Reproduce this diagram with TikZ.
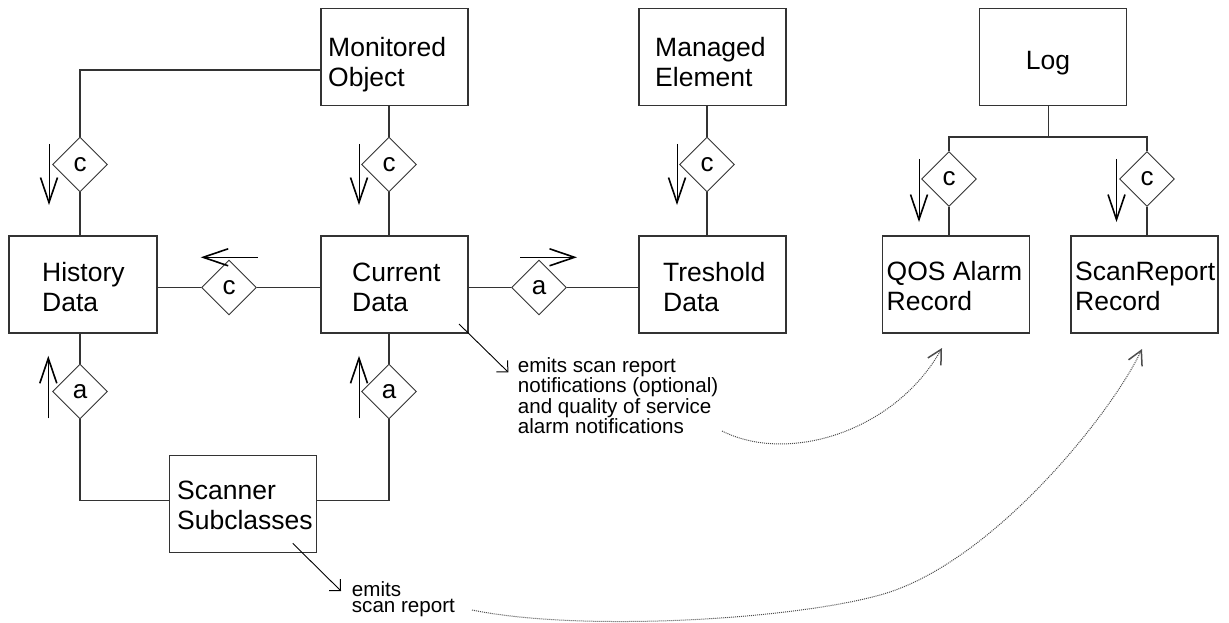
\documentclass[tikz,border=0pt]{standalone}
\usepackage{fontspec}
\setmainfont{Liberation Sans}
\usetikzlibrary{shapes.geometric,arrows.meta}
\definecolor{ln}{gray}{0.2}
\definecolor{dotc}{gray}{0.3}
\tikzset{
  box/.style={draw=ln,line width=1.1pt,rectangle,minimum width=147pt,minimum height=97pt,inner sep=0pt},
  lbl/.style={font=\fontsize{26.5}{30}\selectfont,align=left,inner sep=0pt,anchor=base west},
  rel/.style={draw=ln,line width=0.9pt,shape=diamond,aspect=1,minimum width=55pt,minimum height=55pt,inner sep=0pt,font=\fontsize{26}{28}\selectfont},
  conn/.style={draw=ln,line width=1.1pt},
  dirarrow/.style={draw=black,line width=1pt,-{Straight Barb[length=25pt,width=17pt,line width=1.6pt]}},
  notearrow/.style={draw=black,line width=0.9pt,-{Straight Barb[length=8pt,width=16pt,line width=1pt]}},
  note/.style={font=\fontsize{20.6}{16.7}\selectfont,align=left,inner sep=0pt,anchor=base west},
  flow/.style={draw=dotc,line width=1pt,dash pattern=on 1pt off 1pt,-{Straight Barb[length=14pt,width=15pt,line width=1.5pt]}}
}
\begin{document}
\begin{tikzpicture}[x=1pt,y=-1pt]
\useasboundingbox (0,0) rectangle (1229,623);
\clip (0,0) rectangle (1229,623);
% boxes
\node[box] (mon)  at (394.5,57)  {};
\node[box] (man)  at (712.5,57)  {};
\node[box] (log)  at (1053,57)   {};
\node[box,minimum width=148pt] (hist) at (83,284.5) {};
\node[box] (curr) at (394.5,284.5) {};
\node[box] (thr)  at (712.5,284.5) {};
\node[box] (qos)  at (956,284.5) {};
\node[box] (scr)  at (1144.5,284.5) {};
\node[box] (scan) at (243,504) {};
% labels (anchored at the baseline of the last line)
\node[lbl] (monT)  at (328,86.5)  {Monitored\\Object};
\node[lbl] (manT)  at (655,86.5)  {Managed\\Element};
\node[lbl,anchor=base] (logT) at (1048,70) {Log};
\node[lbl] (histT) at (42,311)    {History\\Data};
\node[lbl] (currT) at (352,311.5) {Current\\Data};
\node[lbl] (thrT)  at (663,311.5) {Treshold\\Data};
\node[lbl] (qosT)  at (886.5,310) {QOS Alarm\\Record};
\node[lbl] (scrT)  at (1075,310)  {ScanReport\\Record};
\node[lbl] (scanT) at (177,529.5) {Scanner\\Subclasses};
% relationship diamonds
\node[rel] (dMH) at (80,164.5)   {c};
\node[rel] (dMC) at (389,164.5)  {c};
\node[rel] (dMT) at (707,164.5)  {c};
\node[rel] (dHC) at (229,287.5)  {c};
\node[rel] (dCT) at (539,287.5)  {a};
\node[rel] (dHS) at (80,391.5)   {a};
\node[rel] (dCS) at (389,391.5)  {a};
\node[rel] (dLQ) at (949,179)    {c};
\node[rel] (dLS) at (1147,179)   {c};
% connectors
\draw[conn] (mon.west) ++(0,13) -| (dMH.north);
\draw[conn] (dMH.south) -- (dMH.south |- hist.north);
\draw[conn] (mon.south -| dMC.north) -- (dMC.north);
\draw[conn] (dMC.south) -- (dMC.south |- curr.north);
\draw[conn] (man.south -| dMT.north) -- (dMT.north);
\draw[conn] (dMT.south) -- (dMT.south |- thr.north);
\draw[conn] (hist.east |- dHC.west) -- (dHC.west);
\draw[conn] (dHC.east) -- (curr.west |- dHC.east);
\draw[conn] (curr.east |- dCT.west) -- (dCT.west);
\draw[conn] (dCT.east) -- (thr.west |- dCT.east);
\draw[conn] (hist.south -| dHS.north) -- (dHS.north);
\draw[conn] (dHS.south) |- ([yshift=3.3pt]scan.west);
\draw[conn] (curr.south -| dCS.north) -- (dCS.north);
\draw[conn] (dCS.south) |- ([yshift=3.3pt]scan.east);
\coordinate (lj) at (1048.5,137);
\draw[conn] (log.south -| lj) -- (lj);
\draw[conn] (dLQ.north) |- (lj) -| (dLS.north);
\draw[conn] (dLQ.south) -- (dLQ.south |- qos.north);
\draw[conn] (dLS.south) -- (dLS.south |- scr.north);
% direction arrows
\draw[dirarrow] ([shift={(-31,-20.5)}]dMH.center) -- ++(0,61);
\draw[dirarrow] ([shift={(-30,-20.5)}]dMC.center) -- ++(0,61);
\draw[dirarrow] ([shift={(-30,-20.5)}]dMT.center) -- ++(0,61);
\draw[dirarrow] ([shift={(-30,-20)}]dLQ.center) -- ++(0,63);
\draw[dirarrow] ([shift={(-30.5,-20)}]dLS.center) -- ++(0,63);
\draw[dirarrow] ([shift={(28.7,-30.2)}]dHC.center) -- ++(-57,0);
\draw[dirarrow] ([shift={(-19,-30.2)}]dCT.center) -- ++(57,0);
\draw[dirarrow] ([shift={(-31.7,26.8)}]dHS.center) -- ++(0,-62.5);
\draw[dirarrow] ([shift={(-30,26.8)}]dCS.center) -- ++(0,-62.5);
% notes (anchored at the baseline of the last line)
\node[note] (n1) at (517.7,433.3) {emits scan report\\notifications (optional)\\and quality of service\\alarm notifications};
\node[note] (n2) at (351.7,612.7) {emits\\scan report};
\coordinate (a1s) at (459,324);
\coordinate (a1e) at (508.3,372.3);
\coordinate (a2s) at (292.7,543.3);
\coordinate (a2e) at (341,591);
\draw[notearrow] (a1s) -- (a1e);
\draw[notearrow] (a2s) -- (a2e);
% dotted flows
\coordinate (f1s) at (722,431);
\coordinate (f1e) at (942,348);
\coordinate (f2s) at (472,610);
\coordinate (f2m) at (880,595);
\coordinate (f2e) at (1142,349);
\draw[flow] (f1s) .. controls (790,465) and (896,430) .. (f1e);
\draw[flow] (f2s) .. controls (580,632) and (790,620) .. (f2m) .. controls (990,565) and (1110,416) .. (f2e);
\end{tikzpicture}
\end{document}
